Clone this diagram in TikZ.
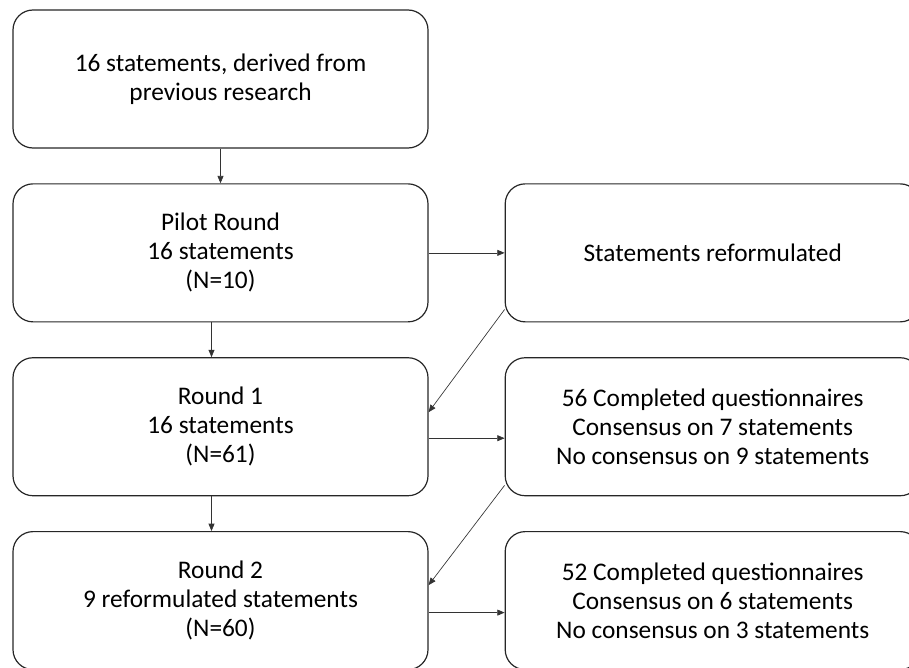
\documentclass[tikz,border=0pt]{standalone}
\usepackage{fontspec}
\setmainfont{Carlito}
\usepackage{tikz}
\usetikzlibrary{positioning,arrows.meta}

\begin{document}
\begin{tikzpicture}[x=0.75pt,y=-0.75pt,every text node part/.style={align=center},
box/.style={draw=black!85, line width=0.9pt, rounded corners=15pt, minimum width=311.25pt, minimum height=103.5pt, inner sep=0pt, font=\fontsize{19}{21.75}\selectfont},
arr/.style={draw=black!80, line width=0.5pt, -{Triangle[length=5.5pt,width=4.5pt]}},
node distance=26pt and 57pt]
\useasboundingbox (0,0) rectangle (909,667);
% left column
\node[box] (src) at (220.5,79) {16 statements, derived from\\previous research};
\node[box, below=of src] (pilot) {Pilot Round\\16 statements\\(N=10)};
\node[box, below=of pilot] (r1) {Round 1\\16 statements\\(N=61)};
\node[box, below=of r1] (r2) {Round 2\\9 reformulated statements\\(N=60)};
% right column
\node[box, right=of pilot] (reform) {Statements reformulated};
\node[box, right=of r1] (q56) {56 Completed questionnaires\\Consensus on 7 statements\\No consensus on 9 statements};
\node[box, right=of r2] (q52) {52 Completed questionnaires\\Consensus on 6 statements\\No consensus on 3 statements};
% connectors
\draw[arr] (src) -- (pilot);
\draw[arr] ([xshift=-6.75pt]pilot.south) -- ([xshift=-6.75pt]r1.north);
\draw[arr] ([xshift=-6.75pt]r1.south) -- ([xshift=-6.75pt]r2.north);
\draw[arr] (pilot) -- (reform);
\draw[arr] ([yshift=-8.6pt]r1.east) -- ([yshift=-8.6pt]q56.west);
\draw[arr] ([yshift=-9pt]r2.east) -- ([yshift=-9pt]q52.west);
\draw[arr] ([yshift=9.75pt]reform.south west) -- ([yshift=10.9pt]r1.east);
\draw[arr] ([yshift=8.25pt]q56.south west) -- ([yshift=11.6pt]r2.east);
\end{tikzpicture}
\end{document}
